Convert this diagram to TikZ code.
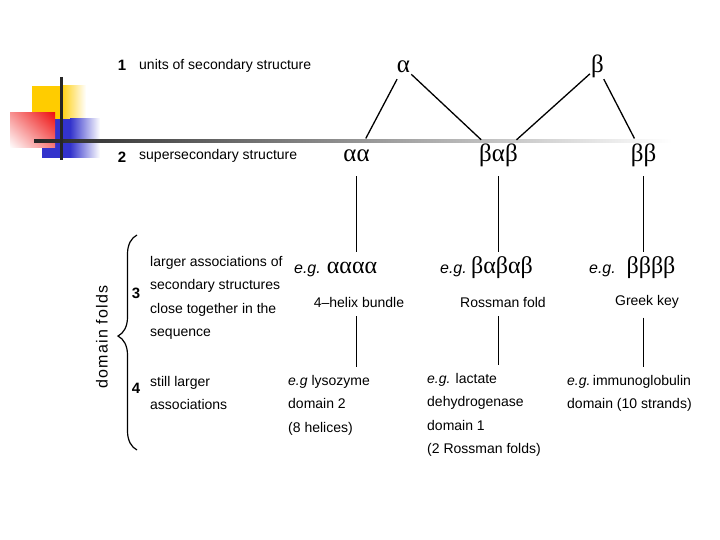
\documentclass[tikz,border=0pt]{standalone}
\usepackage{fontspec}
\setmainfont{Liberation Sans}
\newfontfamily\grkfont{Liberation Serif}
\usetikzlibrary{positioning,decorations.pathreplacing,shadings}
\definecolor{ornY}{HTML}{FFCC00}
\definecolor{ornB}{HTML}{3333CC}
\definecolor{ornR}{HTML}{EE1111}
\tikzset{
  lvl/.style={font=\fontsize{14}{23.5}\selectfont,inner sep=0pt},
  num/.style={font=\fontsize{15}{18}\selectfont\bfseries,inner sep=0pt},
  grk/.style={font=\fontsize{25}{28}\selectfont\grkfont,inner sep=1pt,
    text height=17pt,text depth=5pt},
  grkex/.style={font=\fontsize{24}{28}\selectfont\grkfont,inner sep=1pt,
    text height=17pt,text depth=5pt,anchor=base},
  eg/.style={font=\fontsize{16}{18}\selectfont\itshape,inner sep=0pt,anchor=base east},
  note/.style={font=\fontsize{14}{23.5}\selectfont,align=left,anchor=north west,inner sep=0pt},
  link/.style={line width=1.3pt},
  brc/.style={decorate,decoration={brace,amplitude=19pt,aspect=0.53},line width=1.2pt},
}
\begin{document}
\begin{tikzpicture}[x=1pt,y=-1pt]
  \useasboundingbox (0,0) rectangle (720,540);
  % corner ornament
  \fill[ornY] (32,86) rectangle (60,119);
  \shade[left color=ornY,right color=white] (60,86) rectangle (86,119);
  \fill[ornB] (42,119) rectangle (70,158);
  \shade[left color=ornB,right color=white] (70,119) rectangle (100,158);
  \shade[upper left=ornR!45!white,upper right=ornR,lower left=white,lower right=ornR!55!white]
    (10,113) rectangle (55,148);
  \shade[left color=black!85,right color=white] (34,139.5) rectangle (672,142.5);
  \draw[line width=3pt,black!85] (61,77) -- (61,160);

  % levels 1 and 2
  \node[num] (n1) at (122,65) {1};
  \node[lvl,anchor=west] (t1) at (139,66) {units of secondary structure};
  \node[num] (n2) at (122,157) {2};
  \node[lvl,anchor=west] (t2) at (139,156) {supersecondary structure};

  \node[grk] (a) at (403.5,67) {α};
  \node[grk] (b) at (597.5,67) {β};
  \node[grk] (aa) at (356.5,156) {αα};
  \node[grk] (bab) at (498.5,156) {βαβ};
  \node[grk] (bb) at (643.5,156) {ββ};

  \draw[link,shorten >=6pt] (a) -- (aa);
  \draw[link,shorten >=6pt] (a) -- (bab);
  \draw[link,shorten >=6pt] (b) -- (bab);
  \draw[link,shorten >=6pt] (b) -- (bb);

  % level 3
  \node[grkex] (x4a) at (352,273) {αααα};
  \node[eg] at (321,273) {e.g.};
  \node[grkex] (x4b) at (502,273) {βαβαβ};
  \node[eg] at (467,273) {e.g.};
  \node[grkex] (x4c) at (651,273) {ββββ};
  \node[eg] at (616,273) {e.g.};

  \node[lvl] (hb) at (359,302) {4–helix bundle};
  \node[lvl] (rf) at (503,302) {Rossman fold};
  \node[lvl] (gk) at (647,302) {Greek key};

  \draw[link,shorten <=8pt,shorten >=3pt] (aa.south) -- (aa.south |- x4a.north);
  \draw[link,shorten <=8pt,shorten >=3pt] (bab.south) -- (bab.south |- x4b.north);
  \draw[link,shorten <=8pt,shorten >=3pt] (bb.south) -- (bb.south |- x4c.north);

  % level 4
  \node[note] (lyso) at (288,375) {\textit{e.g} lysozyme\\domain 2\\(8 helices)};
  \node[note] (ldh) at (427,373) {\textit{e.g.} lactate\\dehydrogenase\\domain 1\\(2 Rossman folds)};
  \node[note] (igd) at (567,375) {\textit{e.g.}\,immunoglobulin\\domain (10 strands)};

  \draw[link,shorten <=9pt,shorten >=8pt] (aa |- hb.south) -- (aa |- lyso.north);
  \draw[link,shorten <=9pt,shorten >=8pt] (bab |- rf.south) -- (bab |- ldh.north);
  \draw[link,shorten <=9pt,shorten >=8pt] (bb |- gk.south) -- (bb |- igd.north);

  % domain folds
  \node[num] (n3) at (136,293) {3};
  \node[note] (t3) at (150,256) {larger associations of\\secondary structures\\close together in the\\sequence};
  \node[num] (n4) at (136,388) {4};
  \node[note] (t4) at (150,376) {still larger\\associations};
  \node[lvl,rotate=90,font=\fontsize{16}{18}\selectfont\addfontfeature{LetterSpace=8}] (df) at (102,337) {domain folds};
  \draw[brc] (137,450) -- (137,235);
\end{tikzpicture}
\end{document}
